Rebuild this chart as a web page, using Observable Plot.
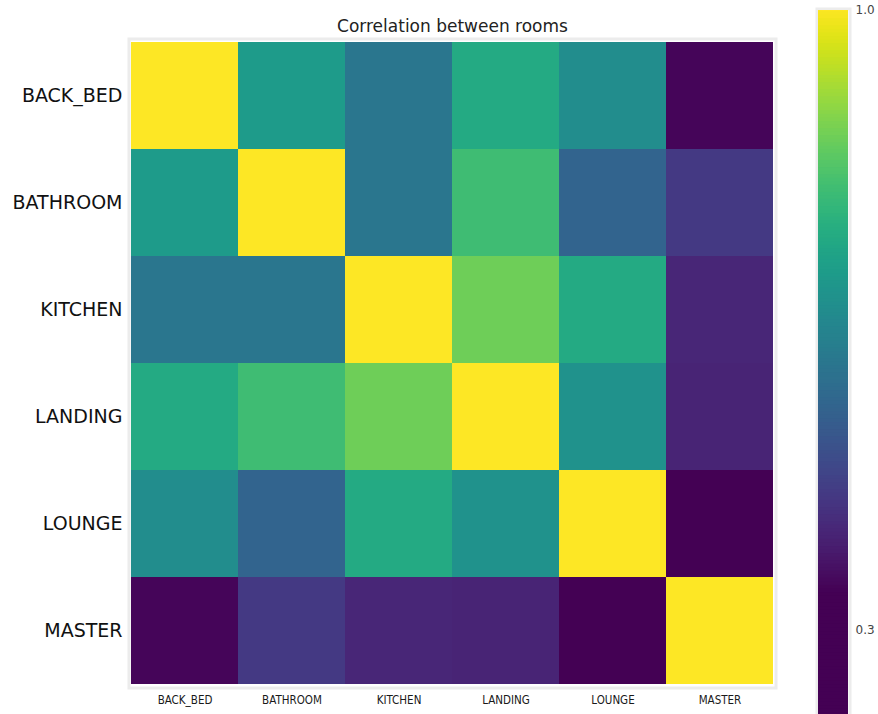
<!DOCTYPE html>
<html>
<head>
<meta charset="utf-8">
<script src="https://cdn.jsdelivr.net/npm/d3@7"></script>
<script src="https://cdn.jsdelivr.net/npm/@observablehq/plot@0.6"></script>
<style>
  html, body { margin: 0; padding: 0; background: #fff; overflow: hidden; }
  #wrap { position: relative; width: 878px; height: 714px; overflow: hidden; }
  #wrap > svg, #wrap > figure { position: absolute; margin: 0; }
</style>
</head>
<body>
<div id="wrap"></div>
<script>
const rooms = ["BACK_BED", "BATHROOM", "KITCHEN", "LANDING", "LOUNGE", "MASTER"];
const backBed  = [1.00, 0.70, 0.60, 0.74, 0.66, 0.35];
const bathroom = [0.70, 1.00, 0.60, 0.795, 0.55, 0.45];
const kitchen  = [0.60, 0.60, 1.00, 0.855, 0.74, 0.41];
const landing  = [0.74, 0.795, 0.855, 1.00, 0.675, 0.405];
const lounge   = [0.66, 0.55, 0.74, 0.675, 1.00, 0.34];
const master   = [0.35, 0.45, 0.41, 0.405, 0.34, 1.00];
const colorDomain = [0.34, 1.0];
const colorbarTicks = [0.3, 1.0];
const colorbarExtent = [0.2026, 1.0];

const rows = [backBed, bathroom, kitchen, landing, lounge, master];
const cells = [];
rows.forEach((r, i) => r.forEach((v, j) => cells.push({row: rooms[i], col: rooms[j], value: v})));

const colorOpts = {type: "linear", scheme: "viridis", domain: colorDomain, clamp: true};

const heat = Plot.plot({
  width: 878,
  height: 714,
  marginLeft: 130,
  marginRight: 104,
  marginTop: 40,
  marginBottom: 28,
  style: {fontFamily: "DejaVu Sans", background: "transparent"},
  x: {domain: rooms, padding: 0, label: null},
  y: {domain: rooms, padding: 0, label: null},
  color: colorOpts,
  marks: [
    Plot.frame({stroke: "#ececec", strokeWidth: 3, inset: -1.5}),
    Plot.cell(cells, {x: "col", y: "row", fill: "value"}),
    Plot.axisY({tickSize: 0, tickPadding: 8, fontSize: 19, color: "#111", fontFamily: "DejaVu Sans"}),
    Plot.axisX({tickSize: 0, tickPadding: 9, fontSize: 11.5, color: "#1a1a1a", fontFamily: "DejaVu Sans Condensed"}),
    Plot.text(["Correlation between rooms"], {frameAnchor: "top", dy: -14, lineAnchor: "middle", fontSize: 17, fill: "#222", fontFamily: "DejaVu Sans"})
  ]
});
heat.style.left = "0px";
heat.style.top = "0px";
document.getElementById("wrap").appendChild(heat);

// colorbar
const step = 0.004;
const bands = d3.range(colorbarExtent[0], colorbarExtent[1], step);
const cbar = Plot.plot({
  width: 60,
  height: 716,
  marginLeft: 0,
  marginRight: 30,
  marginTop: 10,
  marginBottom: 0,
  style: {fontFamily: "DejaVu Sans", background: "transparent", overflow: "visible"},
  x: {domain: [0, 1], axis: null},
  y: {domain: colorbarExtent, label: null},
  color: colorOpts,
  marks: [
    Plot.frame({stroke: "#ececec", strokeWidth: 3, inset: -1.5}),
    Plot.rect(bands, {x1: 0, x2: 1, y1: d => d, y2: d => Math.min(d + step * 1.3, colorbarExtent[1]), fill: d => d}),
    Plot.axisY({anchor: "right", ticks: colorbarTicks, tickFormat: d3.format(".1f"), tickSize: 0, tickPadding: 7, fontSize: 12, color: "#444"})
  ]
});
cbar.style.left = "818px";
cbar.style.top = "0px";
document.getElementById("wrap").appendChild(cbar);
</script>
</body>
</html>
